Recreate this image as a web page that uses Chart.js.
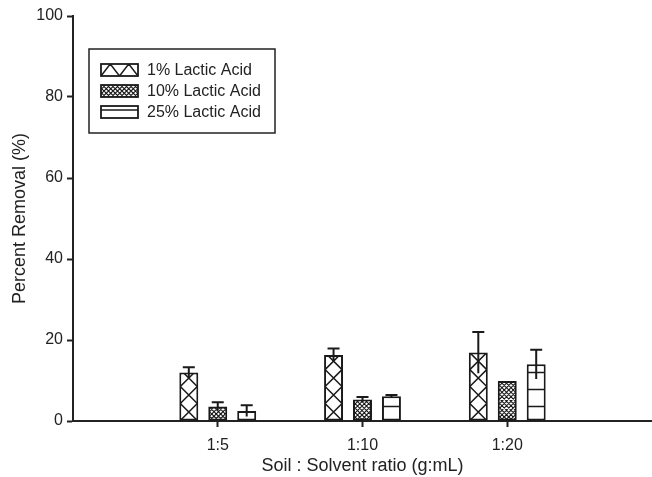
<!DOCTYPE html>
<html>
<head>
<meta charset="utf-8">
<script src="https://cdn.jsdelivr.net/npm/chart.js@4.4.0/dist/chart.umd.min.js"></script>
<style>
  body { margin: 0; background: #fff; }
  #wrap { width: 652px; height: 477px; }
</style>
</head>
<body>
<div id="wrap"><canvas id="removalChart"></canvas></div>
<script>
// soil:solvent ratios (empty slots pad the axis on both sides)
const ratios = ['', '1:5', '1:10', '1:20', ''];

const lactic1 = [null, 12.0, 16.3, 16.9, null];
const err1 = [null, 1.3, 1.6, 5.1, null];
const lactic10 = [null, 3.6, 5.3, 9.9, null];
const err10 = [null, 1.0, 0.6, 0, null];
const lactic25 = [null, 2.5, 6.1, 14.0, null];
const err25 = [null, 1.4, 0.3, 3.6, null];

const seriesLabels = ['1% Lactic Acid', '10% Lactic Acid', '25% Lactic Acid'];
const hatches = ['cross', 'dense', 'hlines'];

const ink = '#1a1a1a';
const textColor = '#222';

// fill a rectangle with the hatch style used in the figure
function drawHatch(ctx, kind, x0, y0, x1, y1, opts) {
    opts = opts || {};
    ctx.save();
    ctx.beginPath();
    ctx.rect(x0, y0, x1 - x0, y1 - y0);
    ctx.clip();
    ctx.strokeStyle = ink;
    ctx.beginPath();
    if (kind === 'cross') {
        const w = opts.cellW || (x1 - x0);
        const h = opts.cellH || w;
        ctx.lineWidth = 1.5;
        for (let cx = x0; cx < x1; cx += w) {
            for (let y = y1; y > y0 - h; y -= h) {
                ctx.moveTo(cx, y);
                ctx.lineTo(cx + w, y - h);
                ctx.moveTo(cx, y - h);
                ctx.lineTo(cx + w, y);
            }
        }
    } else if (kind === 'dense') {
        const s = 4.5;
        const hgt = y1 - y0;
        ctx.lineWidth = 1.1;
        for (let c = -hgt - s; c < (x1 - x0) + hgt + s; c += s) {
            ctx.moveTo(x0 + c, y1);
            ctx.lineTo(x0 + c + hgt, y0);
            ctx.moveTo(x0 + c, y0);
            ctx.lineTo(x0 + c + hgt, y1);
        }
    } else if (kind === 'hlines') {
        ctx.lineWidth = 1.5;
        const first = opts.first != null ? opts.first : 14;
        for (let y = y1 - first; y > y0 + 1; y -= 17) {
            ctx.moveTo(x0, y);
            ctx.lineTo(x1, y);
        }
    }
    ctx.stroke();
    ctx.restore();
}

const errorSets = [err1, err10, err25];

const hatchAndErrors = {
    id: 'hatchAndErrors',
    afterDatasetsDraw(chart) {
        const ctx = chart.ctx;
        const yScale = chart.scales.y;
        chart.data.datasets.forEach((ds, di) => {
            const meta = chart.getDatasetMeta(di);
            meta.data.forEach((bar, i) => {
                const v = ds.data[i];
                if (v == null) return;
                const p = bar.getProps(['x', 'y', 'base', 'width'], true);
                const left = p.x - p.width / 2;
                const right = p.x + p.width / 2;
                drawHatch(ctx, hatches[di], left + 1, p.y + 1, right - 1, p.base);

                const e = errorSets[di][i];
                if (!e) return;
                const yTop = yScale.getPixelForValue(v + e);
                const yLow = yScale.getPixelForValue(v - e);
                ctx.save();
                ctx.strokeStyle = ink;
                ctx.lineWidth = 2;
                ctx.beginPath();
                ctx.moveTo(p.x, yLow);
                ctx.lineTo(p.x, yTop);
                ctx.moveTo(p.x - 6, yTop);
                ctx.lineTo(p.x + 6, yTop);
                ctx.stroke();
                ctx.restore();
            });
        });
    }
};

// boxed legend inside the plot, top left
const boxedLegend = {
    id: 'boxedLegend',
    afterDraw(chart) {
        const ctx = chart.ctx;
        const bx = 89, by = 49, bw = 186, bh = 84;
        ctx.save();
        ctx.fillStyle = '#fff';
        ctx.fillRect(bx, by, bw, bh);
        ctx.strokeStyle = textColor;
        ctx.lineWidth = 1.5;
        ctx.strokeRect(bx, by, bw, bh);
        const rows = [64, 85, 106];
        chart.data.datasets.forEach((ds, di) => {
            const sx = 101, sy = rows[di], sw = 37, sh = 12;
            ctx.fillStyle = '#fff';
            ctx.fillRect(sx, sy, sw, sh);
            if (hatches[di] === 'cross') {
                drawHatch(ctx, 'cross', sx, sy, sx + sw, sy + sh, { cellW: 18.5, cellH: 24 });
            } else if (hatches[di] === 'hlines') {
                drawHatch(ctx, 'hlines', sx, sy, sx + sw, sy + sh, { first: 8 });
            } else {
                drawHatch(ctx, 'dense', sx, sy, sx + sw, sy + sh);
            }
            ctx.strokeStyle = ink;
            ctx.lineWidth = 1.8;
            ctx.strokeRect(sx, sy, sw, sh);
            ctx.fillStyle = textColor;
            ctx.font = '16px Arial, "Liberation Sans", sans-serif';
            ctx.textBaseline = 'middle';
            ctx.textAlign = 'left';
            ctx.fillText(ds.label, 147, sy + sh / 2 + 0.5);
        });
        ctx.restore();
    }
};

document.addEventListener('DOMContentLoaded', function () {
    const ctx = document.getElementById('removalChart');
    const fontFam = 'Arial, "Liberation Sans", sans-serif';
    const barStyle = {
        backgroundColor: '#fff',
        borderColor: ink,
        borderWidth: 2,
        borderSkipped: false,
        categoryPercentage: 0.6,
        barPercentage: 0.655
    };

    new Chart(ctx, {
        type: 'bar',
        data: {
            labels: ratios,
            datasets: [
                Object.assign({ label: seriesLabels[0], data: lactic1 }, barStyle),
                Object.assign({ label: seriesLabels[1], data: lactic10 }, barStyle),
                Object.assign({ label: seriesLabels[2], data: lactic25 }, barStyle)
            ]
        },
        options: {
            responsive: true,
            maintainAspectRatio: false,
            animation: false,
            layout: { padding: { top: 16, right: 0, bottom: 0, left: 0 } },
            plugins: {
                legend: { display: false },
                tooltip: { enabled: false }
            },
            scales: {
                x: {
                    offset: false,
                    grid: {
                        offset: false,
                        drawOnChartArea: false,
                        tickLength: 6,
                        tickWidth: 2,
                        tickColor: c => (c.tick && c.tick.label) ? textColor : 'rgba(0,0,0,0)'
                    },
                    border: { color: textColor, width: 2 },
                    ticks: {
                        font: { family: fontFam, size: 16 },
                        color: textColor,
                        padding: 9,
                        maxRotation: 0,
                        autoSkip: false
                    },
                    title: {
                        display: true,
                        text: 'Soil : Solvent ratio (g:mL)',
                        font: { family: fontFam, size: 18 },
                        color: textColor,
                        padding: { top: 0, bottom: 0 }
                    },
                    afterFit: s => {
                        s.height = 56;
                        s.paddingLeft = 0;
                        s.paddingRight = 0;
                    }
                },
                y: {
                    min: 0,
                    max: 100,
                    grid: {
                        drawOnChartArea: false,
                        tickLength: 6,
                        tickWidth: 2,
                        tickColor: textColor
                    },
                    border: { color: textColor, width: 2 },
                    ticks: {
                        stepSize: 20,
                        font: { family: fontFam, size: 16 },
                        color: textColor,
                        padding: 4
                    },
                    title: {
                        display: true,
                        text: 'Percent Removal (%)',
                        font: { family: fontFam, size: 18 },
                        color: textColor,
                        padding: { top: 9, bottom: 0 }
                    },
                    afterFit: s => { s.width = 73; }
                }
            }
        },
        plugins: [hatchAndErrors, boxedLegend]
    });
});
</script>
</body>
</html>
